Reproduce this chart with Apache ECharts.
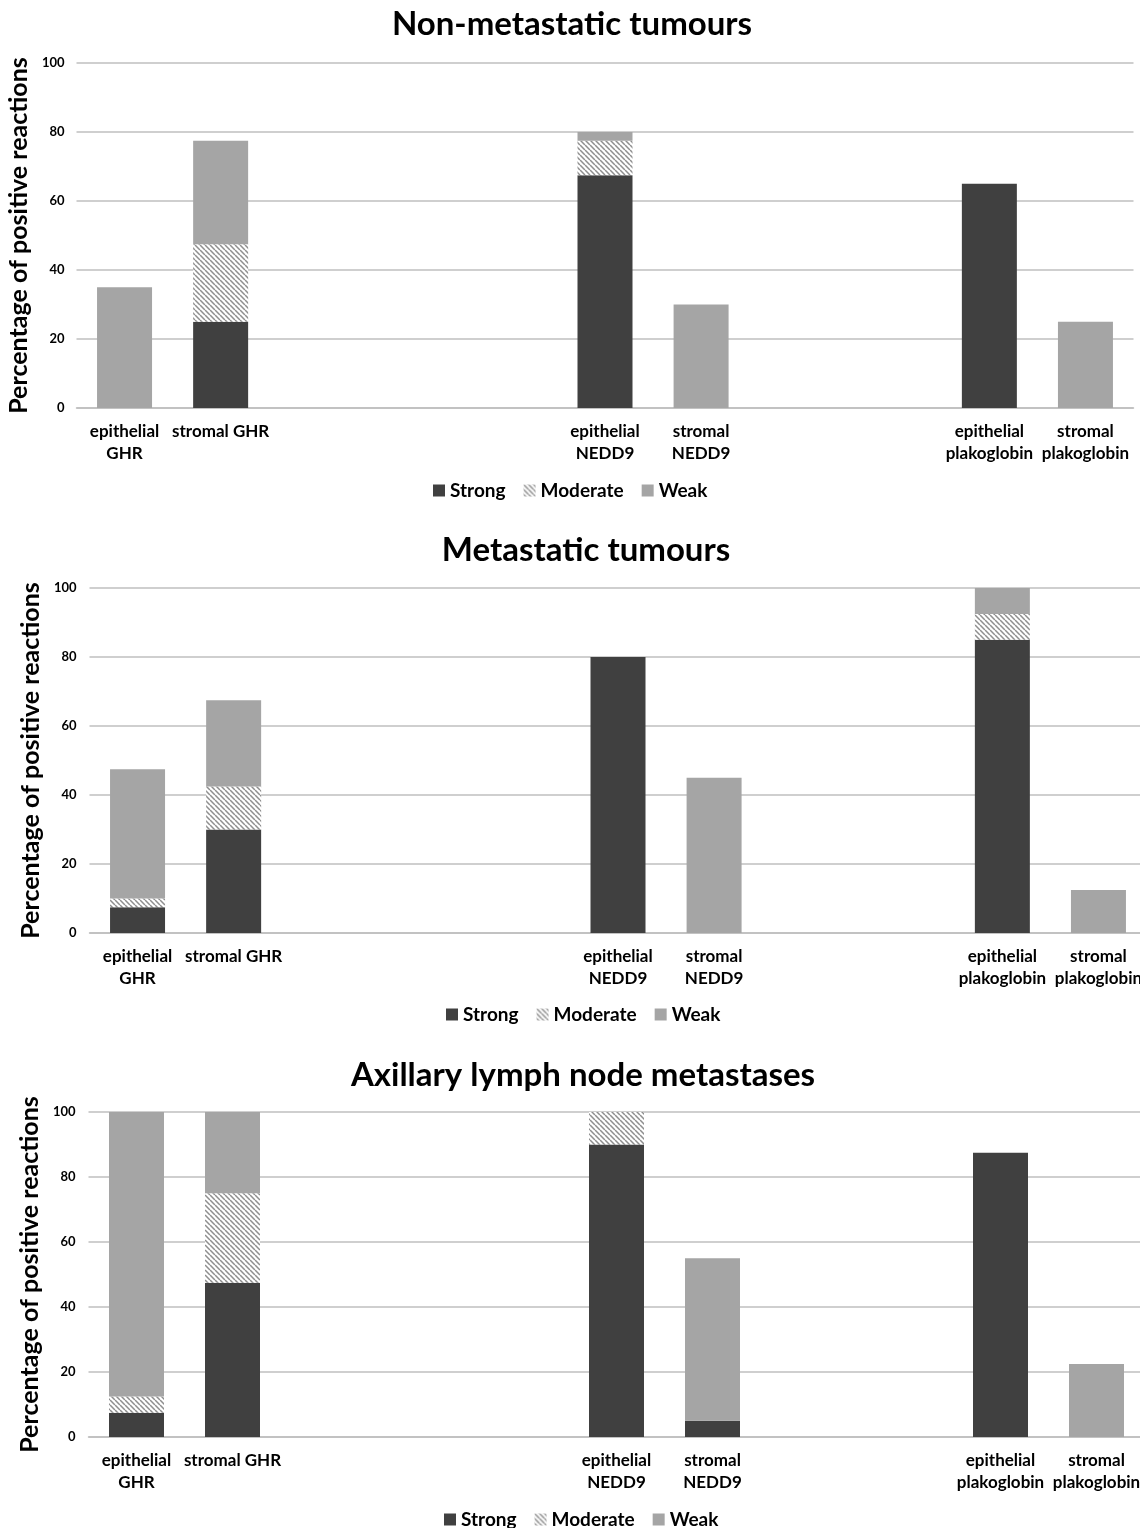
<!DOCTYPE html>
<html>
<head>
<meta charset="utf-8">
<script src="https://cdn.jsdelivr.net/npm/echarts@6/dist/echarts.min.js"></script>
<style>
html,body{margin:0;padding:0;background:#fff;}
#chart{width:1140px;height:1528px;}
</style>
</head>
<body>
<div id="chart"></div>
<script>
// ---- data ----
const categories = ['epithelial\nGHR', 'stromal GHR', '', '', '', 'epithelial\nNEDD9', 'stromal\nNEDD9', '', '', 'epithelial\nplakoglobin', 'stromal\nplakoglobin'];
const panelTitles = ['Non-metastatic tumours', 'Metastatic tumours', 'Axillary lymph node metastases'];
const seriesNames = ['Strong', 'Moderate', 'Weak'];
const yTicks = [0, 20, 40, 60, 80, 100];

// Non-metastatic tumours
const nonMetStrong   = [null, 25,   null, null, null, 67.5, null, null, null, 65,   null];
const nonMetModerate = [null, 22.5, null, null, null, 10,   null, null, null, null, null];
const nonMetWeak     = [35,   30,   null, null, null, 2.5,  30,   null, null, null, 25];

// Metastatic tumours
const metStrong   = [7.5,  30,   null, null, null, 80,   null, null, null, 85,  null];
const metModerate = [2.5,  12.5, null, null, null, null, null, null, null, 7.5, null];
const metWeak     = [37.5, 25,   null, null, null, null, 45,   null, null, 7.5, 12.5];

// Axillary lymph node metastases
const lnStrong   = [7.5,  47.5, null, null, null, 90,   5,    null, null, 87.5, null];
const lnModerate = [5,    27.5, null, null, null, 10,   null, null, null, null, null];
const lnWeak     = [87.5, 25,   null, null, null, null, 50,   null, null, null, 22.5];

const panels = [
  [nonMetStrong, nonMetModerate, nonMetWeak],
  [metStrong, metModerate, metWeak],
  [lnStrong, lnModerate, lnWeak]
];

// ---- styles ----
const FONT = 'Lato, "Open Sans", sans-serif';
function makeStripe() {
  const s = 5;
  const c = document.createElement('canvas');
  c.width = s; c.height = s;
  const ctx = c.getContext('2d');
  ctx.fillStyle = '#ffffff';
  ctx.fillRect(0, 0, s, s);
  ctx.strokeStyle = '#8f8f8f';
  ctx.lineWidth = 1.5;
  ctx.beginPath();
  for (let k = -s; k <= s; k += s) {
    ctx.moveTo(k, 0);
    ctx.lineTo(k + s, s);
  }
  ctx.stroke();
  return c;
}
const stripe = makeStripe();
const colors = ['#404040', {image: stripe, repeat: 'repeat'}, '#a5a5a5'];

const layout = [
  {titleX: 567, titleTop: 3, left: 76.5, width: 1057, top: 63, height: 345, nameGap: 41, legendTop: 476, legendLeft: 428, labelMargin: 12},
  {titleX: 581, titleTop: 529, left: 89.5, width: 1057, top: 588, height: 345, nameGap: 43, legendTop: 1000, legendLeft: 441, labelMargin: 13},
  {titleX: 578, titleTop: 1054, left: 88.5, width: 1056, top: 1112, height: 325, nameGap: 43, legendTop: 1505, legendLeft: 439, labelMargin: 13}
];

const option = {
  backgroundColor: '#ffffff',
  animation: false,
  title: [], grid: [], xAxis: [], yAxis: [], legend: [], series: []
};

layout.forEach((L, i) => {
  option.title.push({
    text: panelTitles[i], left: L.titleX, top: L.titleTop, textAlign: 'center',
    textStyle: {fontFamily: FONT, fontWeight: 'bold', fontSize: 33, color: '#000'}
  });
  option.grid.push({left: L.left, width: L.width, top: L.top, height: L.height, containLabel: false, outerBoundsMode: 'none'});
  option.xAxis.push({
    type: 'category', gridIndex: i, data: categories,
    axisTick: {show: false},
    axisLine: {show: true, lineStyle: {color: '#bfbfbf', width: 1.5}},
    axisLabel: {interval: 0, margin: 13, fontFamily: FONT, fontWeight: 'bold', fontSize: 17, color: '#000', lineHeight: 22}
  });
  option.yAxis.push({
    type: 'value', gridIndex: i, min: yTicks[0], max: yTicks[yTicks.length - 1], interval: 20,
    name: 'Percentage of positive reactions', nameLocation: 'middle', nameGap: L.nameGap,
    nameTextStyle: {fontFamily: FONT, fontWeight: 'bold', fontSize: 25, color: '#000'},
    axisLine: {show: false}, axisTick: {show: false},
    splitLine: {lineStyle: {color: '#bfbfbf', width: 1.5}},
    axisLabel: {margin: L.labelMargin, fontFamily: FONT, fontWeight: 'bold', fontSize: 13, color: '#000'}
  });
  option.legend.push({
    data: seriesNames, left: L.legendLeft, top: L.legendTop,
    itemWidth: 12, itemHeight: 12, itemGap: 18, icon: 'rect',
    textStyle: {fontFamily: FONT, fontWeight: 'bold', fontSize: 19, color: '#000'},
    selectedMode: false
  });
  panels[i].forEach((vals, j) => {
    option.series.push({
      name: seriesNames[j], type: 'bar', stack: 'p' + i,
      xAxisIndex: i, yAxisIndex: i, data: vals,
      barWidth: 55,
      itemStyle: {color: colors[j]},
      emphasis: {disabled: true}
    });
  });
});

const chart = echarts.init(document.getElementById('chart'), null, {renderer: 'canvas'});
chart.setOption(option);
</script>
</body>
</html>
